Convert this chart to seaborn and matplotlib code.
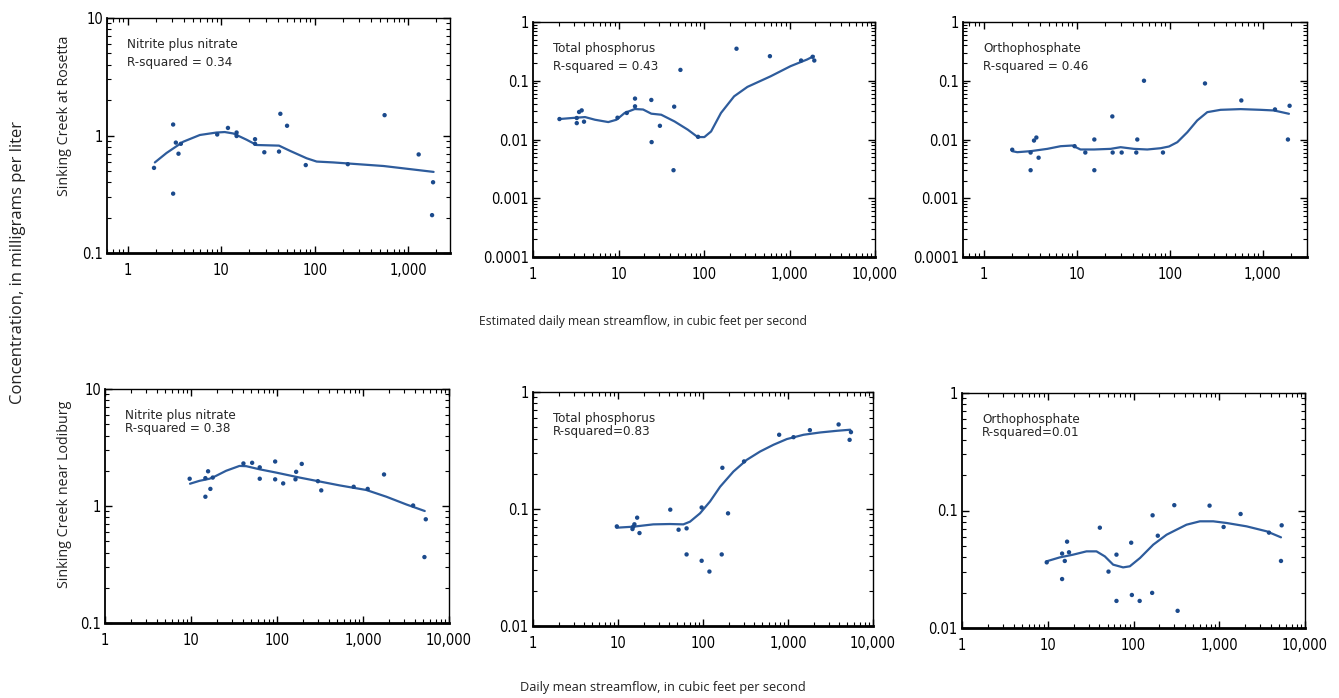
import numpy as np
import pandas as pd
import matplotlib
matplotlib.use("Agg")
import matplotlib.pyplot as plt
import matplotlib.ticker as mticker
import seaborn as sns

sns.set_style("ticks")
plt.rcParams['font.family'] = ['Liberation Sans Narrow', 'DejaVu Sans']
plt.rcParams['font.stretch'] = 'condensed'

# Sinking Creek at Rosetta -- nitrite plus nitrate
ros_no3_q = [1.91, 3.06, 3.06, 3.27, 3.49, 3.7, 9.06, 11.8, 14.6, 14.6, 23, 23, 28.9, 41.5, 42.9, 50.6, 80.2, 226, 559, 1294, 1845, 1800]
ros_no3_c = [0.53, 1.24, 0.32, 0.87, 0.70, 0.85, 1.02, 1.16, 1.06, 0.99, 0.93, 0.85, 0.72, 0.73, 1.53, 1.21, 0.56, 0.57, 1.49, 0.69, 0.40, 0.21]
ros_no3_fit_q = [1.95, 2.6, 3.92, 5.91, 8.9, 10.9, 13.5, 18.7, 23.9, 41.5, 54.5, 82, 105, 158, 545, 1870]
ros_no3_fit_c = [0.59, 0.71, 0.885, 1.01, 1.06, 1.07, 1.04, 0.92, 0.83, 0.82, 0.74, 0.64, 0.60, 0.59, 0.55, 0.49]

# Sinking Creek at Rosetta -- total phosphorus
ros_tp_q = [2.04, 3.25, 3.25, 3.46, 3.71, 3.95, 9.73, 12.5, 15.6, 15.6, 24.2, 24.4, 30.5, 44, 44.8, 53, 85.2, 240, 590, 1367, 1866, 1950]
ros_tp_c = [0.0223, 0.0232, 0.019, 0.0294, 0.0313, 0.0201, 0.0235, 0.0283, 0.0497, 0.0367, 0.0471, 0.00903, 0.0171, 0.0030, 0.0362, 0.153, 0.0111, 0.351, 0.262, 0.221, 0.256, 0.221]
ros_tp_fit_q = [2.04, 2.84, 4.06, 5.3, 7.59, 9.48, 11.8, 15.5, 19.4, 24.2, 31.6, 45.2, 64.6, 84.4, 101, 121, 158, 225, 322, 601, 1028, 1607, 1918]
ros_tp_fit_c = [0.0223, 0.0232, 0.0241, 0.0217, 0.0198, 0.0217, 0.0283, 0.033, 0.0324, 0.0275, 0.0264, 0.0203, 0.0147, 0.011, 0.011, 0.0137, 0.0283, 0.0543, 0.0786, 0.119, 0.177, 0.230, 0.262]

# Sinking Creek at Rosetta -- orthophosphate
ros_op_q = [2.03, 3.2, 3.2, 3.48, 3.69, 3.9, 9.5, 12.4, 15.5, 15.5, 24.2, 24.4, 30.5, 43.8, 44.9, 53, 84.8, 240, 590, 1358, 1871, 1950]
ros_op_c = [0.0067, 0.006, 0.003, 0.0096, 0.0108, 0.0049, 0.0077, 0.006, 0.01, 0.003, 0.0247, 0.006, 0.006, 0.006, 0.01, 0.1, 0.006, 0.09, 0.0462, 0.0325, 0.01, 0.0375]
ros_op_fit_q = [2.03, 2.3, 3.2, 4.84, 6.73, 8.98, 11.0, 15.4, 23.2, 29.7, 41.3, 57.5, 80, 98.4, 121, 155, 198, 254, 353, 580, 951, 1324, 1919]
ros_op_fit_c = [0.00633, 0.00608, 0.00633, 0.00693, 0.00769, 0.0079, 0.00676, 0.00676, 0.00693, 0.0074, 0.00693, 0.00676, 0.00711, 0.0076, 0.009, 0.0133, 0.0211, 0.0292, 0.032, 0.0329, 0.032, 0.0312, 0.0274]

# Sinking Creek near Lodiburg -- nitrite plus nitrate
lod_no3_q = [9.65, 14.7, 14.7, 15.8, 16.8, 17.9, 40.7, 51.4, 63, 63, 95.2, 95.2, 118, 164, 167, 194, 299, 327, 779, 1134, 1756, 3826, 5370, 5180]
lod_no3_c = [1.71, 1.2, 1.73, 1.98, 1.4, 1.75, 2.31, 2.34, 2.14, 1.71, 2.4, 1.69, 1.56, 1.69, 1.96, 2.29, 1.63, 1.36, 1.46, 1.4, 1.86, 1.01, 0.77, 0.366]
lod_no3_fit_q = [9.74, 12.5, 16.4, 18.7, 25.6, 36.6, 43.8, 62.5, 97.8, 183, 313, 535, 1094, 1871, 3199, 5224]
lod_no3_fit_c = [1.55, 1.64, 1.71, 1.78, 2.0, 2.2, 2.19, 2.06, 1.93, 1.75, 1.62, 1.5, 1.37, 1.2, 1.03, 0.906]

# Sinking Creek near Lodiburg -- total phosphorus
lod_tp_q = [9.69, 14.8, 15.1, 15.6, 16.8, 17.9, 41.2, 51.6, 64.1, 64.1, 96.4, 96.4, 119, 166, 169, 197, 304, 787, 1161, 1809, 3939, 5307, 5504]
lod_tp_c = [0.071, 0.0674, 0.0706, 0.074, 0.0843, 0.0623, 0.0987, 0.0665, 0.0683, 0.0409, 0.103, 0.0361, 0.0292, 0.0409, 0.225, 0.0918, 0.255, 0.431, 0.411, 0.472, 0.528, 0.39, 0.454]
lod_tp_fit_q = [9.6, 15.1, 26, 40.8, 58.7, 70.3, 92.2, 121, 159, 228, 327, 470, 675, 969, 1524, 2393, 3763, 5404]
lod_tp_fit_c = [0.0692, 0.0706, 0.0739, 0.0744, 0.0739, 0.0779, 0.0918, 0.116, 0.155, 0.209, 0.263, 0.31, 0.354, 0.396, 0.431, 0.451, 0.466, 0.476]

# Sinking Creek near Lodiburg -- orthophosphate
lod_op_q = [9.73, 14.7, 14.7, 15.8, 16.8, 17.7, 40.5, 51.1, 63.3, 63.3, 94, 95.7, 118, 165, 167, 192, 299, 327, 771, 1124, 1774, 3801, 5248, 5345]
lod_op_c = [0.0362, 0.043, 0.0261, 0.0372, 0.0543, 0.0441, 0.0714, 0.0302, 0.0421, 0.017, 0.0532, 0.0191, 0.017, 0.0199, 0.091, 0.061, 0.111, 0.014, 0.11, 0.0724, 0.0934, 0.0648, 0.0372, 0.0748]
lod_op_fit_q = [9.65, 13.8, 19.8, 28.3, 37, 46.3, 57.9, 75.7, 90.6, 119, 170, 243, 318, 415, 595, 851, 1218, 2084, 3573, 5248]
lod_op_fit_c = [0.0369, 0.0399, 0.0421, 0.0449, 0.0449, 0.0407, 0.0346, 0.0328, 0.0335, 0.0394, 0.0512, 0.0622, 0.0687, 0.0757, 0.0809, 0.0809, 0.0783, 0.0733, 0.0665, 0.0591]

panel_labels = ["Nitrite plus nitrate\nR-squared = 0.34", "Total phosphorus\nR-squared = 0.43",
                "Orthophosphate\nR-squared = 0.46", "Nitrite plus nitrate\nR-squared = 0.38",
                "Total phosphorus\nR-squared=0.83", "Orthophosphate\nR-squared=0.01"]

W, H = 1339, 698
# axes boxes in pixels: left, right, top, bottom
boxes = [(107, 450, 18, 253), (533, 875, 22, 257), (963, 1307, 22, 257),
         (105, 449, 389, 623), (533, 873, 392, 626), (962, 1305, 393, 628)]
xlims = [(0.6, 2800), (1, 10000), (0.6, 3000), (1, 10000), (1, 10000), (1, 10000)]
ylims = [(0.1, 10), (0.0001, 1), (0.0001, 1), (0.1, 10), (0.01, 1), (0.01, 1)]

series = [(ros_no3_q, ros_no3_c, ros_no3_fit_q, ros_no3_fit_c),
          (ros_tp_q, ros_tp_c, ros_tp_fit_q, ros_tp_fit_c),
          (ros_op_q, ros_op_c, ros_op_fit_q, ros_op_fit_c),
          (lod_no3_q, lod_no3_c, lod_no3_fit_q, lod_no3_fit_c),
          (lod_tp_q, lod_tp_c, lod_tp_fit_q, lod_tp_fit_c),
          (lod_op_q, lod_op_c, lod_op_fit_q, lod_op_fit_c)]

dot_color = "#1b4a8c"
line_color = "#2e5c9c"
label_font = dict(family=["Open Sans", "DejaVu Sans"], fontstretch="normal", color="#222222")

fig = plt.figure(figsize=(W / 100, H / 100), dpi=100)


def xfmt(v, pos):
    return f"{v:,.0f}" if v >= 1 else f"{v:g}"


for i, (box, (q, c, fq, fc)) in enumerate(zip(boxes, series)):
    l, r, t, b = box
    ax = fig.add_axes([l / W, 1 - b / H, (r - l) / W, (b - t) / H])
    pts = pd.DataFrame({"q": q, "c": c})
    fit = pd.DataFrame({"q": fq, "c": fc})
    sns.lineplot(data=fit, x="q", y="c", ax=ax, color=line_color, lw=1.6, sort=False)
    sns.scatterplot(data=pts, x="q", y="c", ax=ax, color=dot_color, s=10, edgecolor="none", zorder=3)
    ax.set_xscale("log")
    ax.set_yscale("log")
    ax.set_xlim(*xlims[i])
    ax.set_ylim(*ylims[i])
    ax.set_xlabel("")
    ax.set_ylabel("")
    ax.xaxis.set_major_locator(mticker.LogLocator(base=10))
    ax.yaxis.set_major_locator(mticker.LogLocator(base=10))
    ax.xaxis.set_minor_locator(mticker.LogLocator(base=10, subs=np.arange(2, 10)))
    ax.yaxis.set_minor_locator(mticker.LogLocator(base=10, subs=np.arange(2, 10)))
    ax.xaxis.set_minor_formatter(mticker.NullFormatter())
    ax.yaxis.set_minor_formatter(mticker.NullFormatter())
    ax.xaxis.set_major_formatter(mticker.FuncFormatter(xfmt))
    ax.yaxis.set_major_formatter(mticker.FuncFormatter(lambda v, p: f"{v:g}"))
    ax.tick_params(which="both", direction="in", top=True, right=True, labelsize=10.5, colors="black")
    ax.tick_params(which="major", length=5, width=1)
    ax.tick_params(which="minor", length=3, width=0.8)
    ax.tick_params(axis="x", pad=7)
    ax.tick_params(axis="y", pad=3)
    for s in ax.spines.values():
        s.set_linewidth(1.0)
        s.set_color("black")
    ax.spines["bottom"].set_linewidth(2)
    ax.spines["left"].set_linewidth(1.3)
    ax.text(0.058, 0.915, panel_labels[i], transform=ax.transAxes, va="top", ha="left",
            fontsize=9.6, linespacing=1.5 if i < 3 else 1.05)

fig.text(18 / W, 1 - 262 / H, "Concentration, in milligrams per liter", rotation=90,
         ha="center", va="center", fontsize=12, **label_font)
fig.text(65 / W, 1 - 116 / H, "Sinking Creek at Rosetta", rotation=90,
         ha="center", va="center", fontsize=10.3, **label_font)
fig.text(65 / W, 1 - 494 / H, "Sinking Creek near Lodiburg", rotation=90,
         ha="center", va="center", fontsize=10.3, **label_font)
fig.text(643 / W, 1 - 322 / H, "Estimated daily mean streamflow, in cubic feet per second",
         ha="center", va="center", fontsize=8.7, **label_font)
fig.text(663 / W, 1 - 688 / H, "Daily mean streamflow, in cubic feet per second",
         ha="center", va="center", fontsize=9.2, **label_font)

fig.savefig("out.png", dpi=100)
